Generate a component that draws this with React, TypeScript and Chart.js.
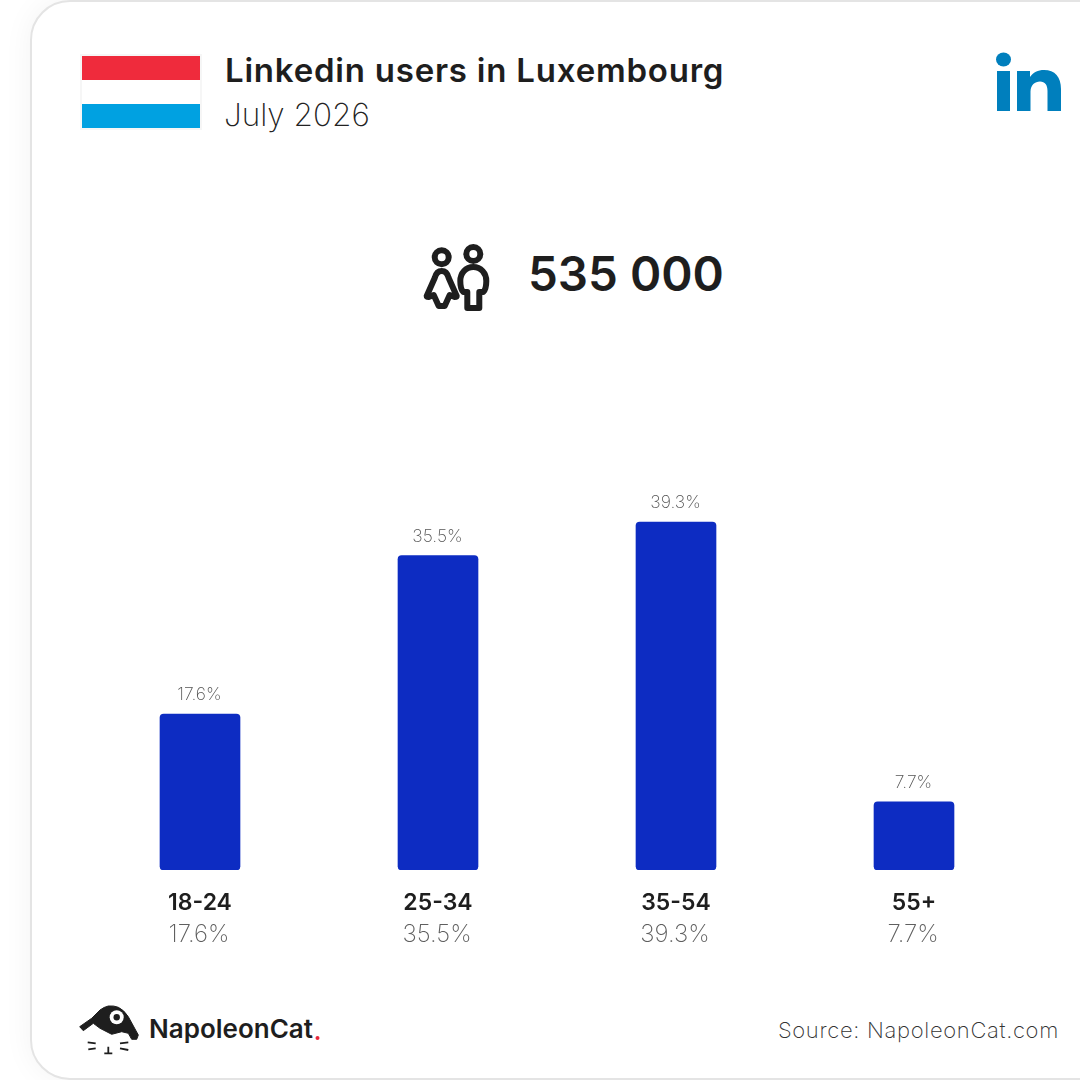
import React, { useEffect, useRef } from "react";
import { Chart, registerables } from "chart.js";

Chart.register(...registerables);

const title = "Linkedin users in Luxembourg";
const period = "July 2026";
const total = "535 000";
const source = "Source: NapoleonCat.com";
const brand = "NapoleonCat";
const categories = ["18-24", "25-34", "35-54", "55+"];
const shares = [17.6, 35.5, 39.3, 7.7];

const FONT = "Inter, sans-serif";
const DARK = "#1e1e1e";
const GREY = "#5f5f5f";
const BAR = "#0d2cc2";

const valueLabels = {
  id: "valueLabels",
  afterDatasetsDraw(chart: any) {
    const { ctx, scales } = chart;
    const meta = chart.getDatasetMeta(0);
    ctx.save();
    ctx.textAlign = "center";
    meta.data.forEach((bar: any, i: number) => {
      const text = `${shares[i]}%`;
      ctx.textBaseline = "alphabetic";
      ctx.fillStyle = "#555555";
      ctx.font = `200 17.5px ${FONT}`;
      ctx.fillText(text, bar.x - 0.5, bar.y - 14);
      ctx.fillStyle = GREY;
      ctx.font = `200 24px ${FONT}`;
      ctx.fillText(text, scales.x.getPixelForValue(i) - 1, 942);
    });
    ctx.restore();
  },
};

export default function App() {
  const ref = useRef<HTMLCanvasElement>(null);
  useEffect(() => {
    const chart = new Chart(ref.current!, {
      type: "bar",
      data: {
        labels: categories,
        datasets: [
          {
            data: shares,
            backgroundColor: BAR,
            barThickness: 80,
            borderRadius: 4,
            borderSkipped: false,
          },
        ],
      },
      options: {
        animation: false,
        responsive: false,
        devicePixelRatio: 1,
        layout: { padding: { left: 81, right: 47, top: 471.5, bottom: 0 } },
        plugins: { legend: { display: false }, tooltip: { enabled: false } },
        scales: {
          x: {
            grid: { display: false },
            border: { display: false },
            afterFit: (s: any) => {
              s.height = 210;
            },
            ticks: {
              color: DARK,
              font: { family: FONT, size: 23, weight: 600 },
              padding: 11,
              maxRotation: 0,
            },
          },
          y: { display: false, min: 0, max: 45 },
        },
      },
      plugins: [valueLabels],
    } as any);
    return () => chart.destroy();
  }, []);

  const text = (s: React.CSSProperties): React.CSSProperties => ({
    position: "absolute",
    fontFamily: FONT,
    whiteSpace: "nowrap",
    lineHeight: 1,
    ...s,
  });

  return (
    <div style={{ position: "fixed", inset: 0, width: 1080, height: 1080, overflow: "hidden", background: "#fff" }}>
      <div
        style={{
          position: "absolute",
          left: 30,
          top: 0,
          width: 1200,
          height: 1080,
          boxSizing: "border-box",
          border: "2px solid #e4e4e4",
          borderRadius: 40,
          background: "#fff",
          boxShadow: "0 0 30px rgba(0,0,0,0.05)",
        }}
      />
      <svg width={1080} height={1080} style={{ position: "absolute", left: 0, top: 0 }}>
        <rect x={80} y={54} width={122} height={76} fill="#f6f6f6" />
        <rect x={82} y={56} width={118} height={24} fill="#ef2b3c" />
        <rect x={82} y={80} width={118} height={24} fill="#ffffff" />
        <rect x={82} y={104} width={118} height={24} fill="#00a1e1" />
        <g fill="#007fbd">
          <ellipse cx={1003.5} cy={59.5} rx={7.5} ry={7} />
          <rect x={997} y={71} width={13} height={40} />
          <path d="M1017 71h13v6c3-4.500 8-7 14-7 11 0 17 7 17 19v22h-13.500v-20c0-6-2.500-9.500-7.500-9.500s-9.500 3.500-9.500 10v19.500h-13.500z" />
        </g>
        <g fill="none" stroke={DARK} strokeWidth={6} strokeLinejoin="round" strokeLinecap="round">
          <circle cx={441.7} cy={257.3} r={7} />
          <path d="M441.700 271c4 0 6 3 7 7l8 18c0 1-1 1-2 1l-5-2-5 11h-6l-5-11-5 2c-1 0-2 0-2-1l8-18c1-4 3-7 7-7z" />
          <circle cx={473.3} cy={254} r={7} />
          <path d="M473.300 267c7.500 0 13 6 13 14 0 5-1 9-3 11h-4v16h-12v-16h-4c-2-2-3-6-3-11 0-8 5.500-14 13-14z" />
        </g>
        <path
          fill={DARK}
          stroke={DARK}
          strokeWidth={1}
          strokeLinejoin="round"
          d="M79.700 1026.700L91.700 1018.300L100 1010Q104 1007 108.300 1006Q114 1005.500 118.300 1007.300Q124 1010 128.300 1016.700L138.300 1035L136.700 1039.300L131.700 1039.300L128.300 1033.300L121.700 1031.700L111.700 1034.300L100 1028.300L93.300 1023.300L83.300 1030.700Z"
        />
        <circle cx={116.7} cy={1017.3} r={7} fill="#fff" />
        <circle cx={116.7} cy={1017.3} r={3.2} fill={DARK} />
        <g fill="none" stroke={DARK} strokeWidth={1.8}>
          <path d="M87.700 1042.300L95.700 1043.300M88.300 1049.300L95.700 1048.300M120 1043.300L128.300 1042.300M120 1048.300L128.300 1050M108.300 1046.700V1053.300M104.300 1053.300H112.300" />
        </g>
        <circle cx={317.5} cy={1038} r={2} fill="#e8283c" />
      </svg>
      <div style={text({ left: 225, top: 54, fontSize: 33, letterSpacing: 0.78, fontWeight: 600, color: DARK })}>{title}</div>
      <div style={text({ left: 224, top: 99, fontSize: 31.5, fontWeight: 200, color: "#222" })}>{period}</div>
      <div style={text({ left: 528, top: 250, fontSize: 47.5, fontWeight: 600, color: DARK })}>{total}</div>
      <div style={text({ left: 149, top: 1016, fontSize: 26, fontWeight: 600, color: DARK })}>{brand}</div>
      <div style={text({ right: 21, top: 1019, fontSize: 22, letterSpacing: 0.68, fontWeight: 200, color: "#333" })}>{source}</div>
      <canvas ref={ref} width={1080} height={1080} style={{ position: "absolute", left: 0, top: 0 }} />
    </div>
  );
}
